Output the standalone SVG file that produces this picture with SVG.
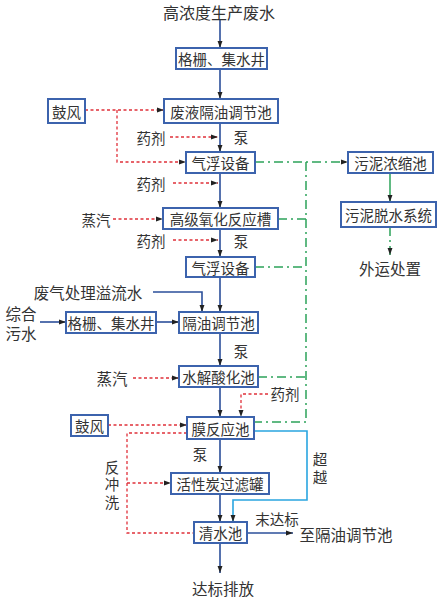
<svg xmlns="http://www.w3.org/2000/svg" width="444" height="601" viewBox="0 0 444 601">
<defs>
<marker id="ah" viewBox="0 0 10 10" refX="10" refY="5" markerWidth="10" markerHeight="7" orient="auto" markerUnits="userSpaceOnUse"><path d="M0,1.5 L10,5 L0,8.5 Z" fill="#222"/></marker>
<marker id="av" viewBox="0 0 10 10" refX="10" refY="5" markerWidth="12" markerHeight="7" orient="auto" markerUnits="userSpaceOnUse"><path d="M0,1.5 L10,5 L0,8.5 Z" fill="#222"/></marker>
</defs>
<style>
text{font-family:"Noto Sans CJK SC","Noto Sans CJK JP",sans-serif;fill:#333;font-size:14.5px;text-anchor:middle;dominant-baseline:central}
.v{writing-mode:vertical-rl;letter-spacing:3px}
.b{fill:#fff;stroke:#3c63ad;stroke-width:2}
.m{stroke:#2b4f9a;stroke-width:1.6;fill:none}
.r{stroke:#e0303a;stroke-width:1.3;stroke-dasharray:3,2.5;fill:none}
.g{stroke:#2da35a;stroke-width:1.5;stroke-dasharray:9,4,2,4;fill:none}
.gs{stroke:#2da35a;stroke-width:1.5;fill:none}
.c{stroke:#2aa5e0;stroke-width:1.6;fill:none}
</style>
<rect width="444" height="601" fill="#fff"/>
<g id="connectors">
<path class="m" d="M220,20 V48" marker-end="url(#av)"/>
<path class="m" d="M220,69 V99" marker-end="url(#av)"/>
<path class="m" d="M220,123 V152" marker-end="url(#av)"/>
<path class="m" d="M220,173 V208" marker-end="url(#av)"/>
<path class="m" d="M220,229 V257" marker-end="url(#av)"/>
<path class="m" d="M220,277 V312" marker-end="url(#av)"/>
<path class="m" d="M153,292 H202 V312" marker-end="url(#av)"/>
<path class="m" d="M40,322 H66" marker-end="url(#ah)"/>
<path class="m" d="M156,322 H179" marker-end="url(#ah)"/>
<path class="m" d="M220,333 V366" marker-end="url(#av)"/>
<path class="m" d="M220,387 V417" marker-end="url(#av)"/>
<path class="m" d="M220,439 V473" marker-end="url(#av)"/>
<path class="m" d="M220,494 V522" marker-end="url(#av)"/>
<path class="m" d="M247,533 H293" marker-end="url(#ah)"/>
<path class="m" d="M220,543 V573" marker-end="url(#av)"/>
<path class="r" d="M85,110 H164" marker-end="url(#ah)"/>
<path class="r" d="M117,110 V162 H186" marker-end="url(#ah)"/>
<path class="r" d="M170,137 H218" marker-end="url(#ah)"/>
<path class="r" d="M173,183 H218" marker-end="url(#ah)"/>
<path class="r" d="M113,219 H163" marker-end="url(#ah)"/>
<path class="r" d="M173,240 H218" marker-end="url(#ah)"/>
<path class="r" d="M133,378 H179" marker-end="url(#ah)"/>
<path class="r" d="M268,394 H241 V417" marker-end="url(#av)"/>
<path class="r" d="M108,425 H187" marker-end="url(#ah)"/>
<path class="r" d="M187,433 H127 V533 H194"/>
<path class="r" d="M194,433 H187" marker-end="url(#ah)"/>
<path class="r" d="M127,483 H171" marker-end="url(#ah)"/>
<path class="g" d="M255,162 H348" marker-end="url(#ah)"/>
<path class="g" d="M306,162 V422 H254"/>
<path class="g" d="M278,219 H306"/>
<path class="g" d="M255,267 H306"/>
<path class="g" d="M258,377 H306"/>
<path class="gs" d="M390,173 V202" marker-end="url(#av)"/>
<path class="g" d="M390,227 V255" marker-end="url(#av)"/>
<path class="c" d="M254,431 H307 V500 H233 V522" marker-end="url(#av)"/>
</g>
<text x="219" y="12" style="font-size:16px">高浓度生产废水</text>
<g id="n1"><rect class="b" x="176" y="48" width="91" height="21"/><text x="221.5" y="58.5">格栅、集水井</text></g>
<g id="n2"><rect class="b" x="164" y="99" width="114" height="24"/><text x="221" y="111">废液隔油调节池</text></g>
<g id="n3"><rect class="b" x="48" y="99" width="37" height="24"/><text x="66.5" y="111">鼓风</text></g>
<text x="151" y="137">药剂</text>
<text x="241" y="136">泵</text>
<g id="n4"><rect class="b" x="186" y="152" width="69" height="21"/><text x="220.5" y="162.5">气浮设备</text></g>
<g id="n5"><rect class="b" x="348" y="152" width="85" height="21"/><text x="390.5" y="162.5">污泥浓缩池</text></g>
<text x="151" y="183">药剂</text>
<g id="n6"><rect class="b" x="163" y="208" width="115" height="21"/><text x="220.5" y="218.5">高级氧化反应槽</text></g>
<text x="96" y="219">蒸汽</text>
<g id="n7"><rect class="b" x="341" y="202" width="95" height="25"/><text x="388.5" y="214.5">污泥脱水系统</text></g>
<text x="151" y="240">药剂</text>
<text x="241" y="240">泵</text>
<g id="n8"><rect class="b" x="186" y="257" width="69" height="20"/><text x="220.5" y="267">气浮设备</text></g>
<text x="390" y="268" style="font-size:15.5px">外运处置</text>
<text x="88" y="292" style="font-size:15.5px">废气处理溢流水</text>
<text x="21" y="313" style="font-size:15.5px">综合</text>
<text x="21" y="333" style="font-size:15.5px">污水</text>
<g id="n9"><rect class="b" x="66" y="312" width="90" height="21"/><text x="111" y="322.5">格栅、集水井</text></g>
<g id="n10"><rect class="b" x="179" y="312" width="79" height="21"/><text x="218.5" y="322.5">隔油调节池</text></g>
<text x="241" y="350">泵</text>
<g id="n11"><rect class="b" x="179" y="366" width="79" height="21"/><text x="218.5" y="376.5">水解酸化池</text></g>
<text x="112" y="378" style="font-size:15.5px">蒸汽</text>
<text x="285" y="393">药剂</text>
<g id="n12"><rect class="b" x="187" y="417" width="67" height="22"/><text x="220.5" y="428">膜反应池</text></g>
<g id="n13"><rect class="b" x="71" y="415" width="37" height="21"/><text x="89.5" y="425.5">鼓风</text></g>
<text x="200" y="453">泵</text>
<text class="v" x="112" y="486">反冲洗</text>
<text class="v" x="320" y="470">超越</text>
<g id="n14"><rect class="b" x="171" y="473" width="98" height="21"/><text x="220" y="483.5">活性炭过滤罐</text></g>
<text x="277" y="518">末达标</text>
<g id="n15"><rect class="b" x="194" y="522" width="53" height="21"/><text x="220.5" y="532.5">清水池</text></g>
<text x="346" y="534" style="font-size:15.5px">至隔油调节池</text>
<text x="223" y="588" style="font-size:15.5px">达标排放</text>
</svg>
